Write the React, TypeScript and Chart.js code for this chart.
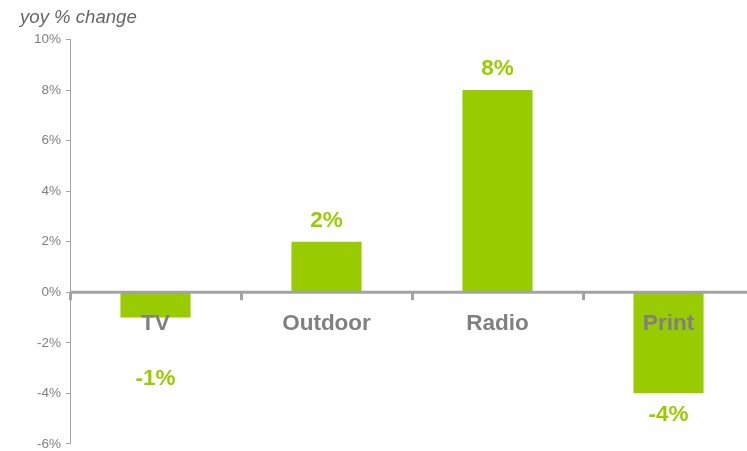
import React, { useEffect, useRef } from "react";
import { Chart, registerables } from "chart.js";

Chart.register(...registerables);

const categories: string[] = ["TV", "Outdoor", "Radio", "Print"];
const values: number[] = [-1, 2, 8, -4];
const valueLabels: string[] = ["-1%", "2%", "8%", "-4%"];
const yMin = -6;
const yMax = 10;
const yStep = 2;
const axisTitle = "yoy % change";

const FONT = "'Liberation Sans', Arial, sans-serif";
const GREEN = "#99cc00";
const GRAY_TEXT = "#808080";
const AXIS_GRAY = "#a3a3a3";

const overlayPlugin = {
  id: "overlay",
  afterDatasetsDraw(chart: any) {
    const { ctx, chartArea, scales } = chart;
    const x = scales.x;
    const y = scales.y;
    const zeroY = y.getPixelForValue(0);
    const n = categories.length;
    const catW = (chartArea.right - chartArea.left) / n;
    ctx.save();
    ctx.fillStyle = AXIS_GRAY;
    ctx.fillRect(chartArea.left, zeroY - 1.5, chartArea.right - chartArea.left, 3);
    for (let i = 0; i <= n; i++) {
      const bx = chartArea.left + i * catW;
      ctx.fillRect(bx - 1, zeroY, 3, 8);
    }
    ctx.font = `bold 22.5px ${FONT}`;
    ctx.fillStyle = GRAY_TEXT;
    ctx.textAlign = "center";
    ctx.textBaseline = "middle";
    categories.forEach((c, i) => {
      ctx.fillText(c, x.getPixelForValue(i), zeroY + 32);
    });
    ctx.fillStyle = GREEN;
    values.forEach((v, i) => {
      const py = y.getPixelForValue(v);
      let ly: number;
      if (v >= 0) ly = py - 21;
      else ly = Math.max(py + 21.5, zeroY + 87);
      ctx.fillText(valueLabels[i], x.getPixelForValue(i), ly);
    });
    ctx.restore();
  },
  afterDraw(chart: any) {
    const { ctx } = chart;
    ctx.save();
    ctx.font = `italic 18.6px ${FONT}`;
    ctx.fillStyle = "#666666";
    ctx.textAlign = "left";
    ctx.textBaseline = "alphabetic";
    ctx.fillText(axisTitle, 20, 22.5);
    ctx.restore();
  },
};

export default function App() {
  const ref = useRef<HTMLCanvasElement | null>(null);
  useEffect(() => {
    if (!ref.current) return;
    const chart = new Chart(ref.current, {
      type: "bar",
      data: {
        labels: categories,
        datasets: [
          {
            data: values,
            backgroundColor: GREEN,
            borderWidth: 0,
            barPercentage: 0.41,
            categoryPercentage: 1,
          },
        ],
      },
      options: {
        animation: false,
        responsive: false,
        devicePixelRatio: 1,
        layout: { padding: { top: 39.5, bottom: 3, left: 0, right: 0 } },
        plugins: {
          legend: { display: false },
          tooltip: { enabled: false },
        },
        scales: {
          x: { display: false },
          y: {
            min: yMin,
            max: yMax,
            ticks: {
              stepSize: yStep,
              callback: (v: any) => `${v}%`,
              color: GRAY_TEXT,
              font: { size: 13.5, family: FONT },
              padding: 5,
            },
            grid: {
              drawOnChartArea: false,
              drawTicks: true,
              tickLength: 4,
              color: AXIS_GRAY,
            },
            border: { display: true, color: AXIS_GRAY },
            afterFit: (s: any) => {
              s.width = 70;
            },
          },
        },
      },
      plugins: [overlayPlugin],
    });
    return () => chart.destroy();
  }, []);

  return (
    <div
      style={{
        position: "fixed",
        left: 0,
        top: 0,
        width: 747,
        height: 451,
        overflow: "hidden",
        background: "#ffffff",
      }}
    >
      <canvas ref={ref} width={754} height={457} style={{ display: "block" }} />
    </div>
  );
}
